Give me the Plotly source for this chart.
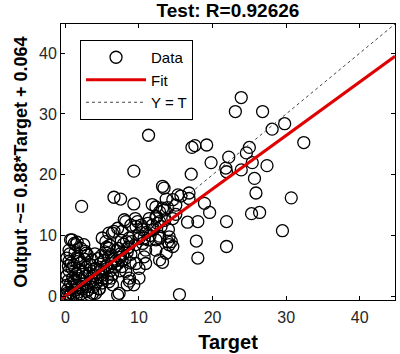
import plotly.graph_objects as go

# Outlying / sparse points
outer_x = [11.3, 9.3, 2.2, 6.6, 7.5, 9.3, 11.8, 12.3, 13.2, 13.4, 13.2, 13.9, 14.6, 13.7, 15.0, 15.3, 15.7,
           16.8, 16.8, 17.2, 17.6, 19.2, 17.1, 18.9, 19.6, 19.8, 21.8, 21.9, 22.2, 23.9, 23.1, 26.8, 23.9,
           24.6, 25.0, 25.4, 27.4, 25.7, 25.9, 28.1, 29.8, 32.4, 30.7, 29.5, 25.3, 26.4, 21.9, 21.9, 16.6,
           18.0, 17.8, 18.0, 14.1, 14.6, 13.2, 12.8, 15.5, 14.4, 14.1, 13.9, 13.4]
outer_y = [26.5, 20.6, 14.8, 16.3, 16.0, 15.2, 15.1, 14.7, 18.1, 17.8, 14.5, 14.6, 15.9, 16.0, 15.0, 16.7, 16.5,
           17.0, 16.1, 24.5, 24.8, 24.9, 20.1, 15.3, 13.8, 22.0, 21.1, 20.5, 22.9, 32.7, 30.4, 30.4, 20.8,
           23.6, 24.5, 22.0, 21.5, 19.4, 17.0, 27.5, 28.4, 25.3, 16.2, 10.8, 13.6, 13.8, 12.3, 8.2, 12.2,
           12.3, 9.1, 6.3, 8.5, 8.2, 5.6, 9.9, 0.3, 9.0, 9.8, 9.0, 14.2]

# Middle band points
mid_x = [15.0, 14.6, 12.8, 12.4, 9.5, 9.8, 11.2, 11.8, 8.0, 8.9, 9.6, 5.9, 6.6, 5.0, 5.5, 0.7, 1.6, 2.5, 1.4,
         10.7, 12.3, 8.2, 10.3, 11.4, 12.3, 12.8, 6.4, 7.1, 7.7, 0.9, 1.2, 0.5, 2.1, 2.8, 1.6, 5.9, 8.7, 10.0,
         11.2, 12.8, 12.3, 13.7, 10.7, 10.9, 12.8, 7.7, 8.2, 8.7, 8.4, 9.6, 10.0, 7.3, 4.6, 3.7, 10.0, 9.3,
         6.2, 6.4, 0.5, 0.7, 7.1, 8.7, 5.9, 4.1, 10.5, 10.9, 9.0, 10.0, 11.0, 12.0, 13.0, 11.5, 9.5, 8.5,
         10.5, 12.5, 13.5, 14.0]
mid_y = [13.5, 12.8, 13.9, 13.1, 12.8, 12.3, 12.0, 11.7, 12.6, 11.7, 11.5, 10.4, 10.7, 9.6, 9.0, 9.3, 8.9, 8.5, 8.5,
         9.6, 9.3, 12.3, 11.7, 12.8, 13.1, 12.3, 10.4, 11.2, 10.7, 9.3, 8.7, 7.6, 7.9, 7.1, 6.5, 7.9, 9.6, 10.1,
         9.3, 9.6, 7.6, 7.1, 6.5, 5.4, 6.0, 4.9, 4.1, 3.0, 1.9, 5.4, 4.6, 0.5, 1.3, 0.5, 3.0, 1.9,
         3.0, 1.9, 5.8, -0.3, 0.2, 2.5, 2.4, 0.5, 8.7, 7.6, 9.0, 9.5, 10.5, 11.0, 11.5, 10.0, 8.5, 8.0,
         11.0, 12.0, 12.5, 11.0]

# Dense core near the origin
core_x = [0.1, 0.2, 0.3, 0.1, 0.4, 0.2, 0.6, 0.5, 0.8, 0.9, 0.3, 0.7, 1.0, 0.4, 0.9, 0.2, 0.8, 0.6,
          1.1, 1.3, 1.5, 1.2, 1.7, 1.9, 1.4, 1.8, 1.1, 1.6, 1.3, 1.9, 1.5, 1.8,
          2.1, 2.3, 2.5, 2.2, 2.7, 2.9, 2.4, 2.8, 2.1, 2.6, 2.9, 2.3, 2.7,
          3.1, 3.3, 3.5, 3.2, 3.7, 3.9, 3.4, 3.8, 3.6, 3.0, 3.9, 3.3,
          4.1, 4.3, 4.5, 4.2, 4.7, 4.9, 4.4, 4.8, 4.0, 4.6, 4.9,
          5.1, 5.3, 5.5, 5.2, 5.7, 5.9, 5.4, 5.8, 5.0, 5.6,
          6.1, 6.3, 6.5, 6.2, 6.7, 6.9, 6.4, 6.8, 6.0,
          7.1, 7.3, 7.5, 7.2, 7.7, 7.9, 7.4, 7.8, 7.6,
          8.1, 8.4, 8.6, 8.9, 8.3, 8.8]
core_y = [0.2, 0.5, 1.1, 1.8, 2.6, 3.4, 0.1, 4.2, 0.6, 1.5, 0.0, 2.1, 3.0, 5.0, 4.6, 6.3, 5.5, 7.0,
          0.3, 1.0, 1.8, 2.4, 0.7, 2.9, 3.6, 4.3, 5.1, 5.7, 7.2, 1.4, 0.1, 6.2,
          0.4, 1.2, 2.0, 2.7, 3.3, 1.6, 4.0, 4.8, 5.5, 6.1, 0.8, 3.6, 7.4,
          1.1, 2.2, 3.0, 3.8, 2.6, 4.5, 5.2, 1.5, 6.0, 6.8, 3.4, 0.3,
          2.0, 3.1, 3.9, 4.6, 5.3, 2.7, 6.2, 4.3, 7.0, 1.2, 6.7,
          3.5, 4.4, 5.0, 5.9, 3.0, 6.5, 7.3, 4.7, 2.2, 8.1,
          4.2, 5.4, 6.1, 6.9, 4.8, 7.5, 3.6, 5.8, 8.4,
          5.3, 6.4, 7.0, 7.9, 5.9, 8.6, 4.2, 6.8, 9.2,
          6.2, 7.3, 8.1, 6.9, 9.0, 5.5]

target = outer_x + mid_x + core_x
output = outer_y + mid_y + core_y

axis_range = [-0.6, 44.8]
fit_slope = 0.88
fit_intercept = 0.064
tick_vals = [0, 10, 20, 30, 40]

FONT = "Liberation Sans, Arial, sans-serif"

fig = go.Figure()
fig.add_trace(go.Scatter(
    x=target, y=output, mode="markers", name="Data",
    marker=dict(symbol="circle-open", size=12, color="black", line=dict(width=1.3, color="black")),
))
fig.add_trace(go.Scatter(
    x=axis_range, y=[fit_slope * v + fit_intercept for v in axis_range],
    mode="lines", name="Fit", line=dict(color="#e00000", width=3),
))
fig.add_trace(go.Scatter(
    x=axis_range, y=axis_range, mode="lines", name="Y = T",
    line=dict(color="#444444", width=1, dash="dot"),
))

axis_common = dict(
    range=axis_range, tickvals=tick_vals, showline=True, linecolor="black", linewidth=1,
    mirror="allticks", ticks="inside", ticklen=4, tickcolor="black", showgrid=False, zeroline=False,
    tickfont=dict(family=FONT, size=16, color="#262626"), automargin=False,
)

fig.update_layout(
    width=400, height=354,
    margin=dict(l=61, r=5, t=24, b=54),
    paper_bgcolor="white", plot_bgcolor="white",
    title=dict(text="<b>Test: R=0.92626</b>", x=0.57, xanchor="center", y=0.972, yanchor="middle",
               font=dict(family=FONT, size=19, color="black")),
    xaxis=dict(**axis_common, ticklabelstandoff=3,
               title=dict(text="<b>Target</b>", font=dict(family=FONT, size=20, color="black"), standoff=9)),
    yaxis=dict(**axis_common, title=dict(text="<b>Output ~= 0.88*Target + 0.064</b>",
                                         font=dict(family=FONT, size=18, color="black"), standoff=6)),
    showlegend=True,
    legend=dict(x=0.057, y=0.942, xanchor="left", yanchor="top", bgcolor="white",
                bordercolor="black", borderwidth=1, itemwidth=60,
                font=dict(family=FONT, size=15, color="black"), tracegroupgap=0),
)

fig.write_html("out.html", config={"displayModeBar": False},
               post_script="document.body.style.margin='0';")
